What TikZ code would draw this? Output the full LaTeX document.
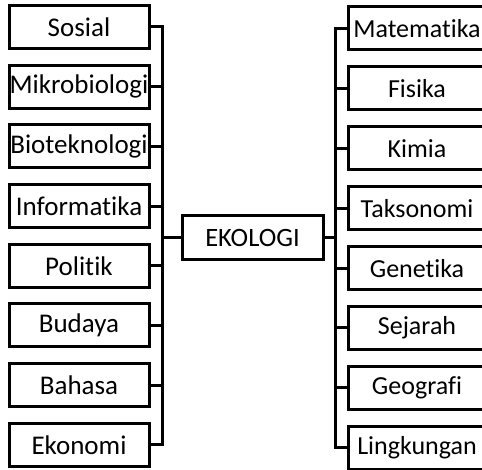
\documentclass[tikz,border=0pt]{standalone}
\usepackage{fontspec}
\setmainfont{Carlito}[Ligatures={NoCommon}]
\begin{document}
\begin{tikzpicture}[x=1pt,y=-1pt,
  box/.style={draw=black,line width=3pt,fill=white,inner sep=0pt,text=black},
  lbox/.style={box,minimum width=140pt,minimum height=43pt,font=\fontsize{27}{32}\selectfont},
  rbox/.style={box,minimum width=138pt,minimum height=43pt,font=\fontsize{26}{31}\selectfont},
  cbox/.style={box,minimum width=141pt,minimum height=44pt,font=\fontsize{26.5}{31}\selectfont},
  wire/.style={line width=3pt,draw=black,line join=miter}]
\useasboundingbox (0,0) rectangle (482,470);
\clip (0,0) rectangle (482,470);
\coordinate (lbus) at (162,0);
\coordinate (rbus) at (335,0);
% left column
\foreach \t [count=\i from 0] in {Sosial,Mikrobiologi,Bioteknologi,Informatika,Politik,Budaya,Bahasa,Ekonomi}{
  \node[lbox] (l\i) at (79,{27+59.7*\i}) {\t};
}
% right column
\foreach \t [count=\i from 0] in {Matematika,Fisika,Kimia,Taksonomi,Genetika,Sejarah,Geografi,Lingkungan}{
  \node[rbox] (r\i) at (417,{28.5+59.9*\i}) {\t};
}
\node[cbox] (c) at (252.5,238) {EKOLOGI};
% left bus
\draw[wire] (l0.east) -- (l0.east -| lbus) -- (l7.east -| lbus) -- (l7.east);
\foreach \i in {1,...,6}{ \draw[wire] (l\i.east) -- (l\i.east -| lbus); }
\draw[wire] (c.west) -- (c.west -| lbus);
% right bus
\draw[wire] (r0.west) -- (r0.west -| rbus) -- (r7.west -| rbus) -- (r7.west);
\foreach \i in {1,...,6}{ \draw[wire] (r\i.west) -- (r\i.west -| rbus); }
\draw[wire] (c.east) -- (c.east -| rbus);
\end{tikzpicture}
\end{document}
